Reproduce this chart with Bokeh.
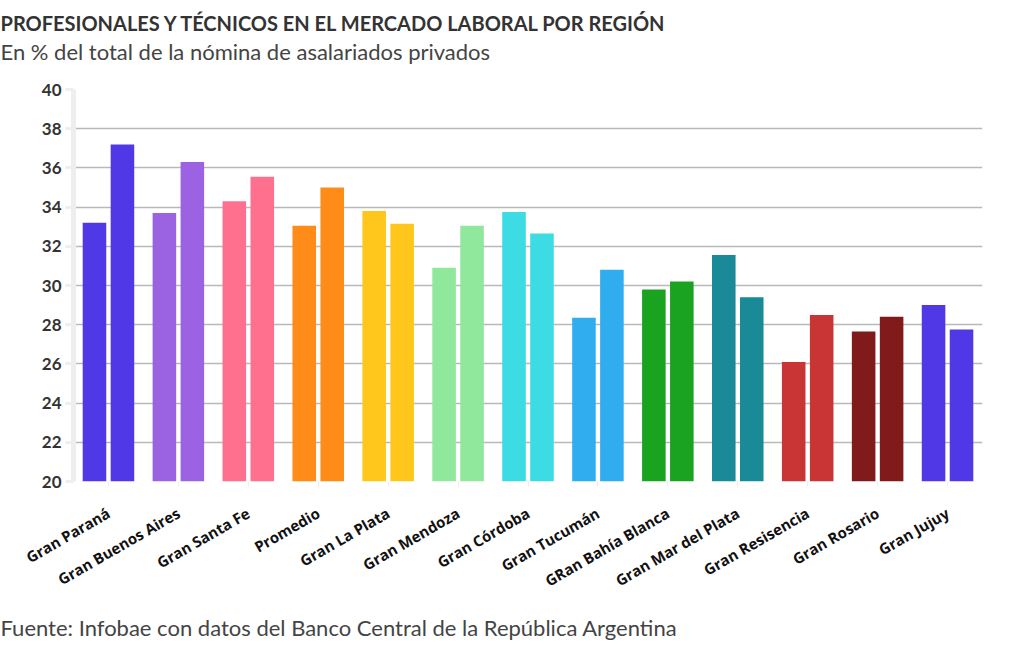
import math
from bokeh.plotting import figure
from bokeh.models import ColumnDataSource, FactorRange, Range1d, FixedTicker, Title
from bokeh.transform import dodge
from bokeh.embed import file_html
from bokeh.resources import INLINE

regiones = ["Gran Paraná", "Gran Buenos Aires", "Gran Santa Fe", "Promedio",
            "Gran La Plata", "Gran Mendoza", "Gran Córdoba", "Gran Tucumán",
            "GRan Bahía Blanca", "Gran Mar del Plata", "Gran Resisencia",
            "Gran Rosario", "Gran Jujuy"]
serie_a = [33.2, 33.7, 34.3, 33.05, 33.8, 30.9, 33.75, 28.35, 29.8, 31.55, 26.1, 27.65, 29.0]
serie_b = [37.2, 36.3, 35.55, 35.0, 33.15, 33.05, 32.65, 30.8, 30.2, 29.4, 28.5, 28.4, 27.75]
colores = ["#5038e6", "#9b63e2", "#ff6f8e", "#ff8c19", "#ffc61c", "#90e89c",
           "#3ddbe3", "#30adee", "#1aa320", "#1a8a99", "#c93535", "#801a1b", "#5038e6"]
y_ticks = list(range(20, 41, 2))

titulo = "PROFESIONALES Y TÉCNICOS EN EL MERCADO LABORAL POR REGIÓN"
subtitulo = "En % del total de la nómina de asalariados privados"
fuente = "Fuente: Infobae con datos del Banco Central de la República Argentina"

src = ColumnDataSource(dict(region=regiones, a=serie_a, b=serie_b, color=colores))

LEFT = 73
p = figure(width=1004, height=650, x_range=FactorRange(*regiones),
           y_range=Range1d(y_ticks[0], y_ticks[-1]),
           output_backend="svg", toolbar_location=None,
           min_border_left=LEFT, min_border_right=22, min_border_top=89, min_border_bottom=0)
p.outline_line_color = None

base = y_ticks[0]
p.vbar(x=dodge("region", -0.2, range=p.x_range), top="a", bottom=base, width=0.337,
       color="color", line_color=None, source=src)
p.vbar(x=dodge("region", 0.2, range=p.x_range), top="b", bottom=base, width=0.337,
       color="color", line_color=None, source=src)

p.xgrid.grid_line_color = None
p.ygrid.grid_line_color = "#b9b9b9"
p.ygrid.grid_line_width = 1.5
p.ygrid.ticker = FixedTicker(ticks=y_ticks)

ya = p.yaxis[0]
ya.ticker = FixedTicker(ticks=y_ticks)
ya.axis_line_color = "#eeeeee"
ya.axis_line_width = 5
ya.major_tick_line_color = "#eeeeee"
ya.major_tick_line_width = 3
ya.major_tick_in = 0
ya.major_tick_out = 8
ya.minor_tick_line_color = None
ya.major_label_text_font = "Lato"
ya.major_label_text_font_style = "bold"
ya.major_label_text_font_size = "17px"
ya.major_label_text_color = "#333333"
ya.major_label_standoff = 4

xa = p.xaxis[0]
xa.axis_line_color = None
xa.major_tick_line_color = "#eeeeee"
xa.major_tick_in = 0
xa.major_tick_out = 5
xa.major_label_orientation = math.pi / 6
xa.major_label_text_font = "Open Sans"
xa.major_label_text_font_style = "bold"
xa.major_label_text_font_size = "15px"
xa.major_label_text_color = "#111111"
xa.major_label_standoff = 25

p.add_layout(Title(text=fuente, text_font="Lato", text_font_style="normal",
                   text_font_size="22px", text_color="#444444", align="left",
                   offset=-LEFT, standoff=19), "below")
# empty spacer panel between subtitle and plot area
p.add_layout(Title(text=" ", text_font_size="10px", standoff=12), "above")
p.add_layout(Title(text=subtitulo, text_font="Lato", text_font_style="normal",
                   text_font_size="22px", text_color="#444444", align="left",
                   offset=-LEFT, standoff=0), "above")
p.add_layout(Title(text=titulo, text_font="Lato", text_font_style="bold",
                   text_font_size="20px", text_color="#333333", align="left",
                   offset=-LEFT, standoff=2), "above")

open("out.html", "w").write(file_html(p, INLINE))
